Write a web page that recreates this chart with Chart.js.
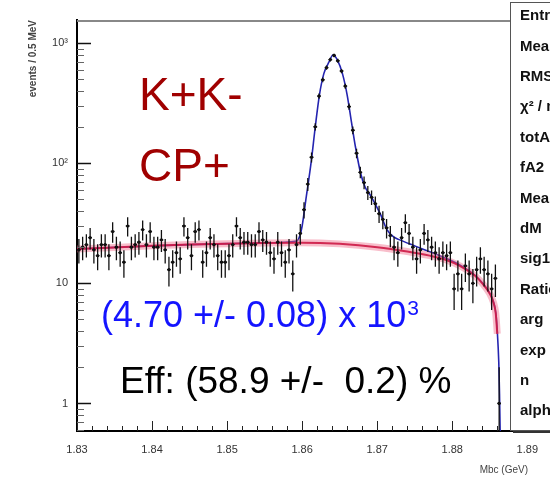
<!DOCTYPE html>
<html>
<head>
<meta charset="utf-8">
<script src="https://cdn.jsdelivr.net/npm/chart.js@4.4.1/dist/chart.umd.min.js"></script>
<style>
  html, body { margin: 0; padding: 0; background: #fff; }
  #wrap { width: 550px; height: 480px; }
</style>
</head>
<body>
<div id="wrap"><canvas id="c" width="550" height="480"></canvas></div>
<script>
// Mbc histogram, 0.5 MeV bins from 1.83 to 1.89 GeV
const binLow = 1.83;
const binWidth = 0.0005;
const counts = [
  19, 20, 21, 24, 19, 17, 21, 21, 17, 27, 20, 18, 15, 30, 20, 21, 22, 28, 21, 27,
  20, 20, 23, 19, 13, 15, 18, 16, 30, 24, 17, 27, 28, 15, 18, 24, 21, 17, 15, 15,
  17, 21, 30, 24, 22, 22, 21, 21, 27, 23, 22, 18, 16, 22, 18, 15, 19, 12, 21, 26,
  41, 67, 112, 201, 362, 495, 625, 728, 788, 712, 585, 438, 296, 188, 121, 84, 69, 57, 52, 46,
  38, 34, 29, 25, 20, 18, 24, 32, 26, 20, 16, 19, 26, 23, 20, 18, 16, 18, 17, 18,
  9, 12, 9, 14, 12, 10, 13, 16, 13, 12, 9, 11, 1, null, null, null, null, null, null, null
];

// total fit (blue)
const fitX = [1.83, 1.835, 1.84, 1.845, 1.85, 1.855, 1.8593, 1.8597, 1.8600, 1.8605, 1.8612, 1.86175,
  1.8623, 1.8629, 1.8636, 1.8641, 1.8647, 1.86536, 1.8660, 1.8666, 1.8671, 1.8678, 1.8684, 1.8691,
  1.8698, 1.8704, 1.8713, 1.8722, 1.873, 1.875, 1.877, 1.879, 1.881, 1.883, 1.884, 1.885, 1.8855,
  1.8858, 1.886, 1.8862, 1.8863, 1.8864];
const fitY = [19.3, 19.9, 20.5, 21.0, 21.4, 21.7, 22.5, 25, 30, 50, 102, 201,
  369, 559, 699, 794, 721, 559, 369, 214, 137, 82, 63, 54,
  45, 38, 28, 24.3, 23, 20.5, 18.3, 16.3, 14.2, 11.7, 10.1, 8.3, 7.0,
  5.7, 4.0, 2.2, 1.2, 0.5];

// background component (red)
const bgX = [1.83, 1.835, 1.84, 1.845, 1.85, 1.855, 1.86, 1.865, 1.87, 1.874, 1.877, 1.879,
  1.881, 1.883, 1.884, 1.885, 1.8855, 1.8858, 1.886];
const bgY = [19.3, 19.9, 20.5, 21.0, 21.4, 21.7, 21.8, 21.3, 20.0, 18.4, 17.0, 15.8,
  14.0, 11.6, 10.0, 8.2, 6.9, 5.6, 3.8];

const xTicks = [1.83, 1.84, 1.85, 1.86, 1.87, 1.88, 1.89];
const yTicks = [1, 10, 100, 1000];
const yTickLabels = ['1', '10', '10²', '10³'];
const statsLabels = ['Entries', 'Mean', 'RMS', 'χ² / ndf', 'totArea', 'fA2', 'Mean', 'dM', 'sig1', 'Ratio', 'arg', 'exp', 'n', 'alpha'];

const font = '"Liberation Sans", Arial, Helvetica, sans-serif';

const points = counts
  .map((n, i) => ({ x: binLow + binWidth * (i + 0.5), y: n }))
  .filter(p => p.y !== null);
const toXY = (xs, ys) => xs.map((x, i) => ({ x, y: ys[i] }));

// ROOT-like decorations: error bars, inner ticks, labels, stats box
const rootStyle = {
  id: 'rootStyle',
  afterDatasetsDraw(chart) {
    const { ctx, chartArea: a, scales: { x, y } } = chart;
    ctx.save();
    ctx.beginPath();
    ctx.rect(a.left, a.top, a.right - a.left, a.bottom - a.top);
    ctx.clip();
    ctx.strokeStyle = '#111';
    ctx.lineWidth = 1.3;
    points.forEach(p => {
      const px = x.getPixelForValue(p.x);
      const py = y.getPixelForValue(p.y);
      const err = Math.sqrt(p.y);
      const top = y.getPixelForValue(p.y + err);
      const bot = p.y - err > 0 ? y.getPixelForValue(p.y - err) : a.bottom + 5;
      ctx.beginPath();
      ctx.moveTo(px, top);
      ctx.lineTo(px, bot);
      ctx.moveTo(x.getPixelForValue(p.x - binWidth / 2), py);
      ctx.lineTo(x.getPixelForValue(p.x + binWidth / 2), py);
      ctx.stroke();
    });
    ctx.restore();
  },
  afterDraw(chart) {
    const { ctx, chartArea: a, scales: { x, y } } = chart;
    ctx.save();

    // top frame line
    ctx.strokeStyle = '#888';
    ctx.lineWidth = 2;
    ctx.beginPath();
    ctx.moveTo(a.left, a.top + 1);
    ctx.lineTo(a.right, a.top + 1);
    ctx.stroke();

    // x ticks (inside)
    ctx.strokeStyle = '#222';
    ctx.lineWidth = 1;
    for (let k = 0; k <= 30; k++) {
      const v = binLow + k * 0.002;
      const px = Math.round(x.getPixelForValue(v)) + 0.5;
      const len = k % 5 === 0 ? 10 : 5;
      ctx.beginPath();
      ctx.moveTo(px, a.bottom);
      ctx.lineTo(px, a.bottom - len);
      ctx.stroke();
    }

    // y ticks (inside), decades long, 2..9 short
    [0.1, 1, 10, 100, 1000].forEach(d => {
      for (let m = 1; m <= 9; m++) {
        const v = d * m;
        if (v < y.min || v > y.max) continue;
        const py = Math.round(y.getPixelForValue(v)) + 0.5;
        ctx.strokeStyle = m === 1 ? '#111' : '#666';
        ctx.lineWidth = m === 1 ? 1.5 : 1;
        ctx.beginPath();
        ctx.moveTo(a.left, py);
        ctx.lineTo(a.left + (m === 1 ? 14 : 7), py);
        ctx.stroke();
      }
    });

    // axis titles
    ctx.fillStyle = '#444';
    ctx.font = 'bold 10px ' + font;
    ctx.textBaseline = 'middle';
    ctx.save();
    ctx.translate(33, a.top);
    ctx.rotate(-Math.PI / 2);
    ctx.textAlign = 'right';
    ctx.fillText('events / 0.5 MeV', 0, 0);
    ctx.restore();
    ctx.textAlign = 'right';
    ctx.font = '10px ' + font;
    ctx.fillText('Mbc (GeV)', 528, 470);

    // annotations
    ctx.textAlign = 'left';
    ctx.textBaseline = 'alphabetic';
    ctx.fillStyle = '#a00000';
    ctx.font = '46px ' + font;
    ctx.fillText('K+K-', 139, 110);
    ctx.fillText('CP+', 139, 181);

    ctx.fillStyle = '#1414ff';
    ctx.font = '36px ' + font;
    const yieldText = '(4.70 +/- 0.08) x 10';
    ctx.fillText(yieldText, 101, 327);
    const w = ctx.measureText(yieldText).width;
    ctx.font = '21px ' + font;
    ctx.fillText('3', 101 + w + 1, 315);

    ctx.fillStyle = '#000';
    ctx.font = '37px ' + font;
    ctx.fillText('Eff: (58.9 +/-  0.2) %', 120, 393);

    // stats box (cut by the picture edge)
    ctx.fillStyle = '#333';
    ctx.fillRect(513, 430, 60, 3);
    ctx.fillStyle = '#fff';
    ctx.fillRect(510, 2, 60, 428);
    ctx.strokeStyle = '#555';
    ctx.lineWidth = 1;
    ctx.strokeRect(510.5, 2.5, 60, 428);
    ctx.fillStyle = '#111';
    ctx.font = 'bold 15px ' + font;
    ctx.textBaseline = 'middle';
    statsLabels.forEach((t, i) => ctx.fillText(t, 520, 16 + i * 30.4));

    ctx.restore();
  }
};

new Chart(document.getElementById('c'), {
  type: 'scatter',
  data: {
    datasets: [
      {
        label: 'data',
        data: points,
        pointRadius: 1.6,
        pointBackgroundColor: '#000',
        pointBorderWidth: 0,
        showLine: false
      },
      {
        label: 'background',
        data: toXY(bgX, bgY),
        showLine: true,
        borderColor: 'rgba(205,25,70,0.9)',
        borderWidth: 2,
        pointRadius: 0,
        cubicInterpolationMode: 'monotone'
      },
      {
        label: 'background band',
        data: toXY(bgX, bgY),
        showLine: true,
        borderColor: 'rgba(240,110,140,0.45)',
        borderWidth: 7,
        pointRadius: 0,
        cubicInterpolationMode: 'monotone'
      },
      {
        label: 'fit',
        data: toXY(fitX, fitY),
        showLine: true,
        borderColor: '#2424b0',
        borderWidth: 1.6,
        pointRadius: 0,
        cubicInterpolationMode: 'monotone'
      }
    ]
  },
  options: {
    responsive: false,
    animation: false,
    devicePixelRatio: 1,
    layout: { padding: { top: 20, right: 18, left: 0, bottom: 0 } },
    plugins: { legend: { display: false }, tooltip: { enabled: false } },
    scales: {
      x: {
        type: 'linear',
        min: 1.83,
        max: 1.89,
        afterBuildTicks: s => { s.ticks = xTicks.map(v => ({ value: v })); },
        afterFit: s => { s.height = 49; },
        grid: { display: false, drawTicks: false },
        border: { display: true, color: '#000', width: 2 },
        ticks: {
          autoSkip: false,
          maxRotation: 0,
          padding: 12,
          color: '#333',
          font: { family: font, size: 11 },
          callback: v => v.toFixed(2)
        }
      },
      y: {
        type: 'logarithmic',
        min: 0.59,
        max: 1555,
        afterBuildTicks: s => { s.ticks = yTicks.map(v => ({ value: v })); },
        afterFit: s => { s.width = 77; },
        grid: { display: false, drawTicks: false },
        border: { display: true, color: '#000', width: 2 },
        ticks: {
          autoSkip: false,
          padding: 9,
          color: '#333',
          font: { family: font, size: 11 },
          callback: (v, i) => yTickLabels[i]
        }
      }
    }
  },
  plugins: [rootStyle]
});
</script>
</body>
</html>
